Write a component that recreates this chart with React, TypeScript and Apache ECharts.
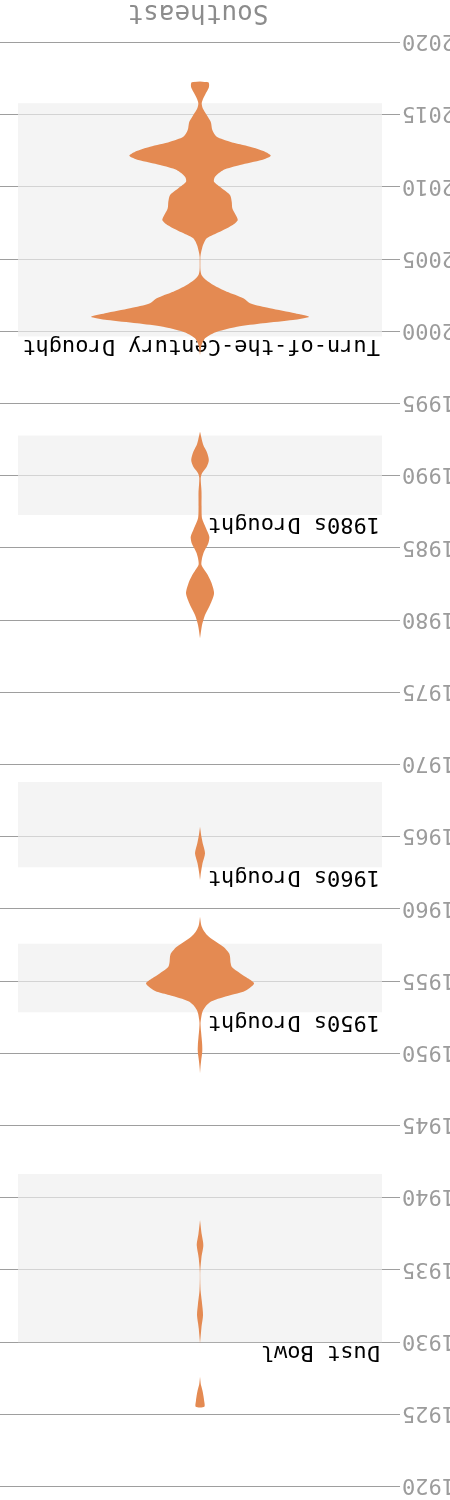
import React, { useEffect, useRef } from 'react';
import * as echarts from 'echarts';

// Axis
const axisMin = 1920;
const axisMax = 2020;
const tickStep = 5;

const chartTitle = 'Southeast';

// Drought periods (years)
const bandNames = ['Dust Bowl', '1950s Drought', '1960s Drought', '1980s Drought', 'Turn-of-the-Century Drought'];
const bandStarts = [1930.0, 1952.85, 1962.9, 1987.3, 1999.65];
const bandEnds = [1941.65, 1957.6, 1968.8, 1992.8, 2015.8];

// Violin profile segments: [year, density (half-width)]
const violin1920s: number[][] = [
  [1927.62, 0], [1927.1, 0.8], [1926.7, 2.3], [1926.3, 3.4], [1926.01, 4], [1925.54, 4.3],
];
const violin1930s: number[][] = [
  [1938.47, 0], [1937.55, 1.5], [1936.74, 3.3], [1935.93, 1.5], [1934.89, 0.2],
  [1933.62, 0.5], [1932.7, 2], [1931.89, 3], [1931.08, 1.5], [1929.93, 0],
];
const violin1950s: number[][] = [
  [1959.47, 0], [1958.9, 1.2], [1958.55, 3.3], [1958.2, 7], [1957.86, 13.3], [1957.55, 20],
  [1957.29, 25], [1956.95, 29], [1956.71, 30], [1956.3, 30.5], [1956.01, 31.7], [1955.75, 36],
  [1955.55, 40], [1955.2, 48], [1954.86, 54], [1954.55, 50], [1954.28, 43.3], [1954.05, 31],
  [1953.83, 20], [1953.6, 11], [1953.36, 6.7], [1953.05, 3.5], [1952.79, 2], [1952.4, 1],
  [1952.09, 0.5], [1951.6, 0.9], [1951.16, 1.5], [1950.7, 2.1], [1950.24, 2.3], [1949.9, 1.9],
  [1949.55, 1.2], [1949.1, 0.5], [1948.63, 0],
];
const violin1960s: number[][] = [
  [1965.71, 0], [1965.1, 1.2], [1964.56, 2.7], [1963.87, 5], [1963.17, 2.5], [1962.48, 0.8], [1962.02, 0],
];
const violin1980s: number[][] = [
  [1993.06, 0], [1992.6, 1.5], [1992.14, 3.3], [1991.68, 6.7], [1991.1, 8.8], [1990.64, 6.7],
  [1990.18, 2], [1989.83, 0.7], [1988.91, 1.5], [1987.99, 1.5], [1987.06, 2], [1986.37, 6],
  [1985.79, 9.3], [1985.33, 8.3], [1984.75, 4], [1984.29, 2], [1983.83, 1.5], [1983.26, 6.7],
  [1982.67, 11], [1981.87, 14], [1981.06, 10], [1980.37, 5], [1979.67, 2], [1978.75, 0],
];
const violin2000s: number[][] = [
  [1998.37, 0], [1999.07, 1.5], [1999.53, 5], [1999.99, 17], [2000.33, 37], [2000.57, 63],
  [2000.8, 93], [2001.02, 109], [2001.26, 95], [2001.61, 70], [2001.95, 50], [2002.3, 43.3],
  [2002.76, 26.7], [2003.22, 13.3], [2003.57, 6], [2003.91, 1.5], [2004.3, 0.4], [2004.8, 0.3],
  [2005.2, 0.4], [2005.53, 1.2], [2005.99, 3], [2006.45, 6.7], [2006.91, 20], [2007.38, 32.7],
  [2007.72, 37.7], [2008.07, 35.7], [2008.53, 32.3], [2008.99, 31.7], [2009.45, 30], [2009.92, 21.7],
  [2010.37, 14], [2010.72, 15], [2011.18, 23.3], [2011.53, 40], [2011.88, 61.7], [2012.17, 70.7],
  [2012.45, 65], [2012.8, 50], [2013.14, 30], [2013.49, 16.7], [2013.95, 12.3], [2014.53, 10.7],
  [2014.99, 6.7], [2015.46, 2.7], [2015.8, 1.7], [2016.15, 3.3], [2016.61, 6.7], [2016.95, 9],
  [2017.26, 8.3],
];

const violinSegments = [violin1920s, violin1930s, violin1950s, violin1960s, violin1980s, violin2000s];

export default function App() {
  const ref = useRef<HTMLDivElement>(null);

  useEffect(() => {
    if (!ref.current) return;
    const chart = echarts.init(ref.current, undefined, { renderer: 'svg' });
    const font = '"DejaVu Sans Mono", monospace';

    const option: any = {
      animation: false,
      backgroundColor: '#ffffff',
      title: {
        text: chartTitle,
        left: 247,
        top: 1468,
        textAlign: 'center',
        textStyle: { color: '#8c8c8c', fontSize: 26, fontWeight: 'normal', fontFamily: font },
      },
      grid: { left: 50, right: 0, top: 13.3, bottom: 42.7, containLabel: false, outerBoundsMode: 'none' },
      xAxis: {
        type: 'value',
        min: -200,
        max: 200,
        show: false,
        splitLine: { show: false },
      },
      yAxis: {
        type: 'value',
        min: axisMin,
        max: axisMax,
        interval: tickStep,
        inverse: true,
        axisLine: { show: false },
        axisTick: { show: false },
        axisLabel: {
          color: '#9c9c9c',
          fontSize: 22,
          fontFamily: font,
          margin: 2,
          formatter: (v: number) => String(v),
        },
        splitLine: { show: true, lineStyle: { color: '#9e9e9e', width: 1 } },
      },
      series: [
        {
          type: 'line',
          data: [],
          z: 1,
          markArea: {
            silent: true,
            itemStyle: { color: 'rgba(238,238,238,0.66)' },
            label: {
              show: true,
              position: [2, 0],
              align: 'left',
              verticalAlign: 'bottom',
              color: '#000000',
              fontSize: 22,
              fontFamily: font,
            },
            data: bandNames.map((n, i) => [
              { name: n, xAxis: -182, yAxis: bandStarts[i] },
              { xAxis: 182, yAxis: bandEnds[i] },
            ]),
          },
        },
        {
          type: 'custom',
          z: 3,
          silent: true,
          data: violinSegments.map((_, i) => [i]),
          renderItem: (params: any, api: any) => {
            const seg = violinSegments[api.value(0)];
            const left = seg.map((p) => api.coord([-p[1], p[0]]));
            const right = seg.slice().reverse().map((p) => api.coord([p[1], p[0]]));
            return {
              type: 'polygon',
              shape: { points: left.concat(right), smooth: 0.25 },
              style: { fill: '#e48a52', stroke: 'none' },
            };
          },
        },
      ],
    };
    chart.setOption(option);
    return () => chart.dispose();
  }, []);

  return (
    <div
      ref={ref}
      style={{
        position: 'fixed',
        left: 0,
        top: 0,
        width: 450,
        height: 1500,
        transform: 'rotate(180deg)',
      }}
    />
  );
}
